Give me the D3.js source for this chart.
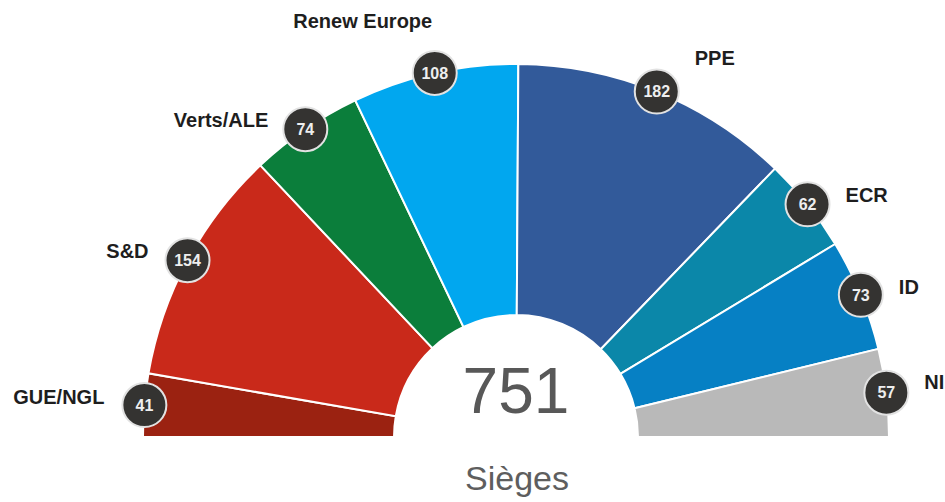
<!DOCTYPE html>
<html>
    <head>
        <meta charset="utf-8">
        <title>Parlement européen - Sièges</title>
        <script src="https://d3js.org/d3.v7.min.js" charset="utf-8"></script>
        <style>
            body { margin: 0; background: #fff; }
            text { font-family: "Liberation Sans", Arial, sans-serif; }
        </style>
    </head>
    <body>
        <script>

            var parties = ["GUE/NGL", "S&D", "Verts/ALE", "Renew Europe", "PPE", "ECR", "ID", "NI"];
            var seats = [41, 154, 74, 108, 182, 62, 73, 57];
            var colors = ["#9b2211", "#c9291a", "#0b7e3b", "#01a7ef", "#325a9a", "#0b87a9", "#0680c4", "#b9b9b9"];
            var totalLabel = "751";
            var subLabel = "Sièges";

            // where each party name sits relative to its seat bubble
            var labelShift = [[-40, -8, "end"], [-39, -9, "end"], [-37, -9, "end"], [-72, -52, "middle"],
                              [38, -34, "start"], [38, -10, "start"], [38, -8, "start"], [38, -11, "start"]];

            var width = 945, height = 502;
            var cx = 516, cy = 437;
            var outerR = 373, innerR = 122;

            var data = parties.map(function(p, i) {
                return {party: p, seats: seats[i], color: colors[i], shift: labelShift[i]};
            });

            var svg = d3.select("body")
                        .append("svg")
                         .attr("width", width)
                         .attr("height", height);

            var g = svg.append("g")
                        .attr("transform", "translate(" + cx + "," + cy + ")");

            var pie = d3.pie()
                        .sort(null)
                        .value(function(d) { return d.seats; })
                        .startAngle(-Math.PI / 2)
                        .endAngle(Math.PI / 2);

            var arc = d3.arc()
                        .innerRadius(innerR)
                        .outerRadius(outerR);

            var arcs = pie(data);

            g.selectAll("path.slice")
                .data(arcs)
                .enter()
                .append("path")
                .attr("class", "slice")
                .attr("d", arc)
                .style("fill", function(d) { return d.data.color; })
                .style("stroke", "#fff")
                .style("stroke-width", 2);

            function bubblePos(d) {
                var a = (d.startAngle + d.endAngle) / 2;
                return [outerR * Math.sin(a), -outerR * Math.cos(a)];
            }

            var bubbles = g.selectAll("g.bubble")
                .data(arcs)
                .enter()
                .append("g")
                .attr("class", "bubble")
                .attr("transform", function(d) { return "translate(" + bubblePos(d) + ")"; });

            bubbles.append("circle")
                .attr("r", 22)
                .style("fill", "#343331")
                .style("stroke", "#e2e2e2")
                .style("stroke-width", 2);

            bubbles.append("text")
                .attr("text-anchor", "middle")
                .attr("dy", "0.36em")
                .style("font-size", "16px")
                .style("font-weight", "bold")
                .style("fill", "#eeeeee")
                .text(function(d) { return d.data.seats; });

            bubbles.append("text")
                .attr("x", function(d) { return d.data.shift[0]; })
                .attr("y", function(d) { return d.data.shift[1]; })
                .attr("dy", "0.36em")
                .attr("text-anchor", function(d) { return d.data.shift[2]; })
                .style("font-size", "20px")
                .style("font-weight", "bold")
                .style("fill", "#1e1e1e")
                .text(function(d) { return d.data.party; });

            g.append("text")
                .attr("x", 0)
                .attr("y", -24)
                .attr("text-anchor", "middle")
                .style("font-size", "64px")
                .style("fill", "#585858")
                .text(totalLabel);

            g.append("text")
                .attr("x", 1)
                .attr("y", 53)
                .attr("text-anchor", "middle")
                .style("font-size", "34px")
                .style("fill", "#5e5e5e")
                .text(subLabel);
        </script>
    </body>
</html>
